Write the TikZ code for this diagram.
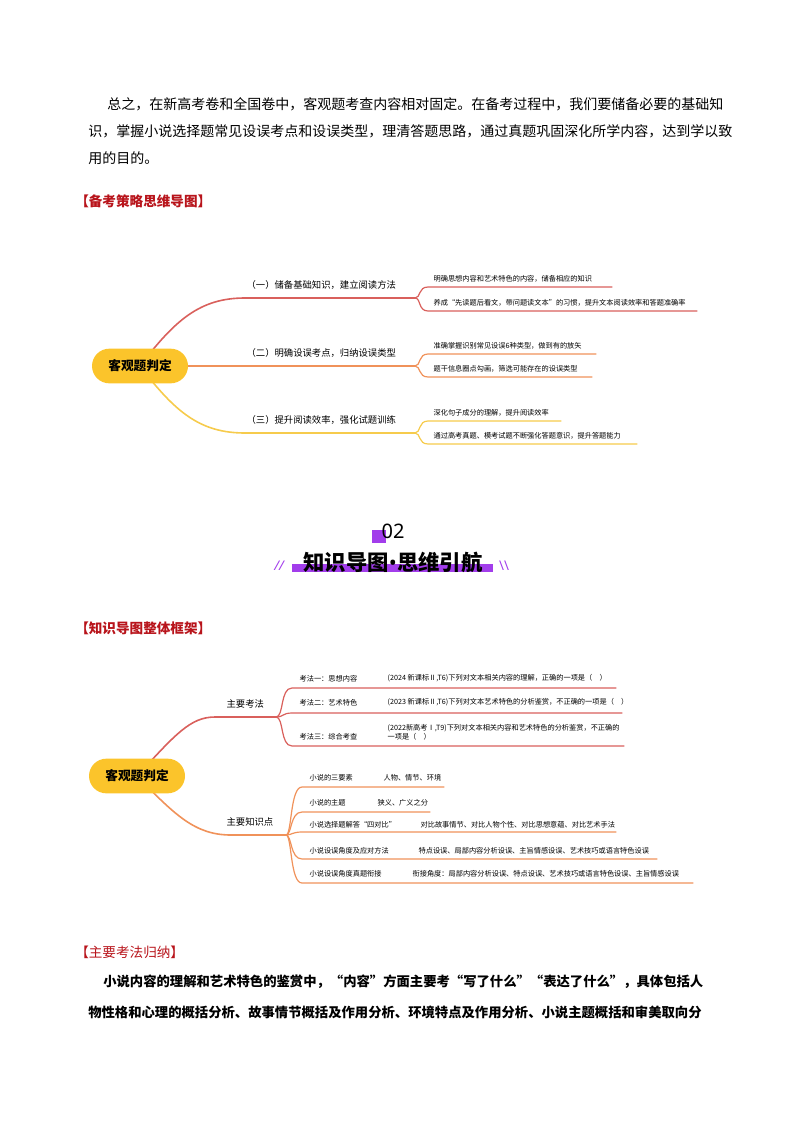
\documentclass[tikz,border=0pt]{standalone}
\usepackage{fontspec}
\setmainfont{Noto Sans CJK SC}
\newfontfamily\latinfont{Noto Sans}
\usetikzlibrary{positioning, backgrounds}
\definecolor{headred}{HTML}{B8141B}
\definecolor{brred}{HTML}{D9605C}
\definecolor{brorange}{HTML}{F0925A}
\definecolor{bryellow}{HTML}{F6CB4C}
\definecolor{nodeyellow}{HTML}{FBC42B}
\definecolor{mypurple}{HTML}{A23DEB}
\newcommand{\fs}[1]{\fontsize{#1}{#1}\selectfont}

\begin{document}
\begin{tikzpicture}[
  x=0.75pt, y=-0.75pt,
  branch/.style={line width=1.2pt, line cap=round},
  twig/.style={line width=0.9pt, line cap=round},
  para/.style={anchor=west, inner sep=0pt, font=\fs{10.5}},
  head/.style={anchor=west, inner sep=0pt, text=headred, font=\fs{10.2}\bfseries},
  root/.style={fill=nodeyellow, rounded corners=13pt, minimum width=72pt,
    minimum height=26pt, font=\fs{9.5}\bfseries},
  btext/.style={anchor=south west, inner sep=1pt, font=\fs{7}},
  stext/.style={anchor=south west, inner sep=1pt, font=\fs{5.4}}
]
\useasboundingbox (0,0) rectangle (794,1123);

% opening paragraph
\node[para] (p1) at (107,104) {总之，在新高考卷和全国卷中，客观题考查内容相对固定。在备考过程中，我们要储备必要的基础知};
\node[para] (p2) at (88,131) {识，掌握小说选择题常见设误考点和设误类型，理清答题思路，通过真题巩固深化所学内容，达到学以致};
\node[para] (p3) at (88,158) {用的目的。};

\node[head] (h1) at (75,201) {【备考策略思维导图】};

% first map
\node[root] (c1) at (140,366) {客观题判定};
\coordinate (k1) at (415,298);
\coordinate (k2) at (415,366);
\coordinate (k3) at (415,433);
\node[btext] (b1) at (245,291) {（一）储备基础知识，建立阅读方法};
\node[btext] (b2) at (245,359) {（二）明确设误考点，归纳设误类型};
\node[btext] (b3) at (245,426) {（三）提升阅读效率，强化试题训练};
\node[stext] (s11) at (432,284) {明确思想内容和艺术特色的内容，储备相应的知识};
\node[stext] (s12) at (432,308) {养成“先读题后看文，带问题读文本”的习惯，提升文本阅读效率和答题准确率};
\node[stext] (s21) at (432,351) {准确掌握识别常见设误6种类型，做到有的放矢};
\node[stext] (s22) at (432,374) {题干信息圈点勾画，筛选可能存在的设误类型};
\node[stext] (s31) at (432,418) {深化句子成分的理解，提升阅读效率};
\node[stext] (s32) at (432,441) {通过高考真题、模考试题不断强化答题意识，提升答题能力};
\begin{scope}[on background layer]
\draw[branch, brred] (c1.center) .. controls (175,320) and (200,298) .. (245,298) -- (k1);
\draw[twig, brred] (k1) .. controls (421,298) and (418,287) .. (428,287) -- (612,287);
\draw[twig, brred] (k1) .. controls (421,298) and (418,311) .. (428,311) -- (697,311);
\draw[branch, brorange] (c1.center) -- (k2);
\draw[twig, brorange] (k2) .. controls (421,366) and (418,354) .. (428,354) -- (596,354);
\draw[twig, brorange] (k2) .. controls (421,366) and (418,377) .. (428,377) -- (592,377);
\draw[branch, bryellow] (c1.center) .. controls (175,412) and (200,433) .. (245,433) -- (k3);
\draw[twig, bryellow] (k3) .. controls (421,433) and (418,421) .. (428,421) -- (561,421);
\draw[twig, bryellow] (k3) .. controls (421,433) and (418,444) .. (428,444) -- (637,444);
\end{scope}

% section title
\fill[mypurple] (372,530) rectangle (386,543);
\node[inner sep=0pt, font=\latinfont\fs{15}] (num) at (393,531) {02};
\fill[mypurple] (292,564) rectangle (493,572);
\node[inner sep=0pt, font=\fs{16}\bfseries] (title) at (393,562) {知识导图{\latinfont\bfseries\textbullet}思维引航};
\node[inner sep=0pt, text=mypurple, font=\latinfont\fs{10}\itshape] (sl) at (279,566) {//};
\node[inner sep=0pt, text=mypurple, font=\latinfont\fs{10}] (sr) at (504,566) {\textbackslash\textbackslash};

\node[head] (h2) at (75,628) {【知识导图整体框架】};

% second map
\node[root] (c2) at (137,776) {客观题判定};
\coordinate (m1) at (276,717);
\coordinate (m2) at (286,835);
\node[btext] (kf) at (225,710) {主要考法};
\node[btext] (zs) at (225,828) {主要知识点};
\node[stext] (t1) at (298,684) {考法一：思想内容};
\node[stext] (d1) at (386,684) {(2024 新课标Ⅱ,T6)下列对文本相关内容的理解，正确的一项是（\quad）};
\node[stext] (t2) at (298,708) {考法二：艺术特色};
\node[stext] (d2) at (386,708) {(2023 新课标Ⅱ,T6)下列对文本艺术特色的分析鉴赏，不正确的一项是（\quad）};
\node[stext] (t3) at (298,742) {考法三：综合考查};
\node[stext, align=left] (d3) at (386,742) {(2022新高考Ⅰ,T9)下列对文本相关内容和艺术特色的分析鉴赏，不正确的\\一项是（\quad）};
\node[stext] (u1) at (308,783) {小说的三要素};
\node[stext] (v1) at (382,783) {人物、情节、环境};
\node[stext] (u2) at (308,808) {小说的主题};
\node[stext] (v2) at (376,808) {狭义、广义之分};
\node[stext] (u3) at (308,830) {小说选择题解答“四对比”};
\node[stext] (v3) at (419,830) {对比故事情节、对比人物个性、对比思想意蕴、对比艺术手法};
\node[stext] (u4) at (308,856) {小说设误角度及应对方法};
\node[stext] (v4) at (417,856) {特点设误、局部内容分析设误、主旨情感设误、艺术技巧或语言特色设误};
\node[stext] (u5) at (308,879) {小说设误角度真题衔接};
\node[stext] (v5) at (411,879) {衔接角度：局部内容分析设误、特点设误、艺术技巧或语言特色设误、主旨情感设误};
\begin{scope}[on background layer]
\draw[branch, brred] (c2.center) .. controls (175,735) and (190,717) .. (215,717) -- (m1);
\draw[twig, brred] (m1) .. controls (284,717) and (280,688) .. (292,688) -- (616,688);
\draw[twig, brred] (m1) .. controls (284,717) and (282,713) .. (292,713) -- (622,713);
\draw[twig, brred] (m1) .. controls (284,717) and (280,746) .. (292,746) -- (624,746);
\draw[branch, brorange] (c2.center) .. controls (175,815) and (195,835) .. (231,835) -- (m2);
\draw[twig, brorange] (m2) .. controls (292,835) and (290,787) .. (302,787) -- (444,787);
\draw[twig, brorange] (m2) .. controls (292,835) and (290,812) .. (302,812) -- (430,812);
\draw[twig, brorange] (m2) .. controls (292,835) and (292,832) .. (302,832) -- (616,832);
\draw[twig, brorange] (m2) .. controls (292,835) and (290,859) .. (302,859) -- (657,859);
\draw[twig, brorange] (m2) .. controls (292,835) and (290,883) .. (302,883) -- (693,883);
\end{scope}

\node[head, font=\fs{10.2}] (h3) at (75,952) {【主要考法归纳】};
\node[para, font=\fs{10}\bfseries] (q1) at (103,982) {小说内容的理解和艺术特色的鉴赏中，“内容”方面主要考“写了什么”“表达了什么”，具体包括人};
\node[para, font=\fs{10}\bfseries] (q2) at (88,1012) {物性格和心理的概括分析、故事情节概括及作用分析、环境特点及作用分析、小说主题概括和审美取向分};
\end{tikzpicture}
\end{document}
